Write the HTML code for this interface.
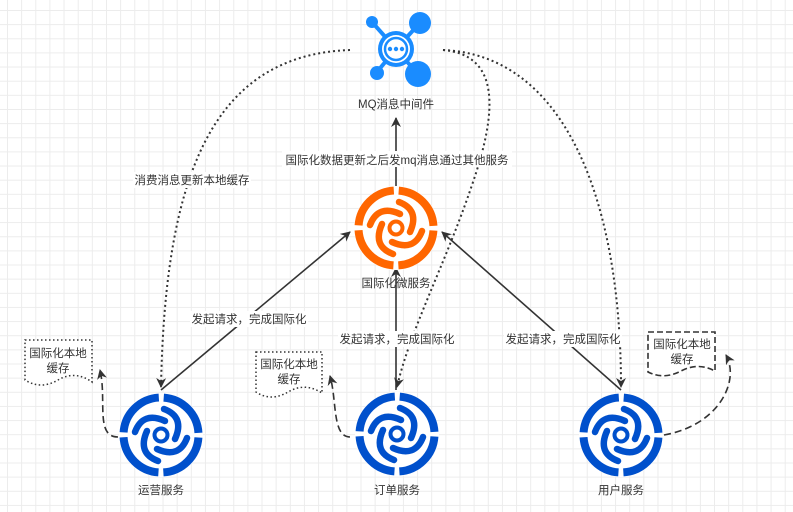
<!DOCTYPE html>
<html><head><meta charset="utf-8"><style>
html,body{margin:0;padding:0;}
body{width:793px;height:512px;overflow:hidden;background:#fff;
background-image:linear-gradient(to right,#ececec 1px,transparent 1px),linear-gradient(to bottom,#ececec 1px,transparent 1px);
background-size:14.15px 14.15px;background-position:7px 10px;}
svg{position:absolute;left:0;top:0;}
text{font-family:"Liberation Sans","Noto Sans CJK SC",sans-serif;font-size:11.5px;fill:#333;}
</style></head><body>
<svg width="793" height="512" viewBox="0 0 793 512">
<defs>
<g id="ic">
<circle r="37.5" fill="none" stroke="currentColor" stroke-width="8" stroke-dasharray="53.9 5" stroke-dashoffset="56.4"/>
<circle r="6.5" fill="none" stroke="currentColor" stroke-width="4"/>
<g fill="none" stroke="currentColor" stroke-width="6.5" stroke-linecap="round">
<path d="M4,-14 Q-18,-24 -26,-3"/>
<path d="M4,-14 Q-18,-24 -26,-3" transform="rotate(90)"/>
<path d="M4,-14 Q-18,-24 -26,-3" transform="rotate(180)"/>
<path d="M4,-14 Q-18,-24 -26,-3" transform="rotate(270)"/>
</g>
</g>
<marker id="a" markerWidth="10" markerHeight="10" refX="9" refY="5" orient="auto" markerUnits="userSpaceOnUse"><path d="M0,0 L10,5 L0,10 L3,5 Z" fill="#333"/></marker>
</defs>
<g fill="none" stroke="#333" stroke-width="2" stroke-dasharray="2 3">
<path d="M350,50 C210,55 165,180 161,387" marker-end="url(#a)"/>
<path d="M443,50 C565,55 621,200 621,387" marker-end="url(#a)"/>
<path d="M443,50 C500,55 498,110 472,185 C445,265 410,330 397,387" marker-end="url(#a)"/>
</g>
<g stroke="#333" stroke-width="1.6" fill="none">
<path d="M396,186 L396,118" marker-end="url(#a)"/>
<path d="M161,390 L350,232" marker-end="url(#a)"/>
<path d="M396,390 L396,268" marker-end="url(#a)"/>
<path d="M621,390 L442,232" marker-end="url(#a)"/>
</g>
<g fill="none" stroke="#333" stroke-width="1.6" stroke-dasharray="7 4">
<path d="M118,437 C95,437 107,400 100,370" marker-end="url(#a)"/>
<path d="M350,437 C332,437 337,400 330,376" marker-end="url(#a)"/>
<path d="M664,435 C720,425 740,380 726,355" marker-end="url(#a)"/>
</g>
<path d="M25,340 H92 V382 Q75,370 58,380 T25,380 Z" fill="#fff" stroke="#333" stroke-width="1.5" stroke-dasharray="1.5 2.5"/>
<text x="58" y="357" text-anchor="middle">国际化本地</text><text x="58" y="372" text-anchor="middle">缓存</text>
<path d="M256,352 H322 V393 Q305,382 288,392 T256,392 Z" fill="#fff" stroke="#333" stroke-width="1.5" stroke-dasharray="1.5 2.5"/>
<text x="289" y="368" text-anchor="middle">国际化本地</text><text x="289" y="383" text-anchor="middle">缓存</text>
<path d="M648,332 H715 V371 Q698,362 681,371 T648,372 Z" fill="#fff" stroke="#333" stroke-width="1.6" stroke-dasharray="6 3"/>
<text x="682" y="348" text-anchor="middle">国际化本地</text><text x="682" y="363" text-anchor="middle">缓存</text>
<g fill="#1a8cff" stroke="#1a8cff">
<line x1="396" y1="49" x2="372" y2="22" stroke-width="4"/>
<line x1="396" y1="49" x2="418" y2="25" stroke-width="4"/>
<line x1="396" y1="49" x2="377" y2="72" stroke-width="4"/>
<line x1="396" y1="49" x2="416" y2="72" stroke-width="4"/>
<circle cx="372" cy="22" r="6" stroke="none"/>
<circle cx="420" cy="23" r="11" stroke="none"/>
<circle cx="377" cy="73" r="7" stroke="none"/>
<circle cx="418" cy="74" r="13" stroke="none"/>
<circle cx="396" cy="49" r="18" stroke="none"/>
<circle cx="396" cy="49" r="14" fill="#fff" stroke="none"/>
<circle cx="396" cy="49" r="11" fill="#fff" stroke-width="2.5"/>
<circle cx="390" cy="49" r="2.2" stroke="none"/><circle cx="396" cy="49" r="2.2" stroke="none"/><circle cx="402" cy="49" r="2.2" stroke="none"/>
</g>
<text x="396" y="108" text-anchor="middle">MQ消息中间件</text>
<g transform="translate(396,228)" style="color:#ff6600"><circle r="42" fill="#fff"/><use href="#ic"/></g>
<g transform="translate(161,435)" style="color:#0050cc"><circle r="42" fill="#fff"/><use href="#ic"/></g>
<g transform="translate(397,434)" style="color:#0050cc"><circle r="42" fill="#fff"/><use href="#ic"/></g>
<g transform="translate(621,435)" style="color:#0050cc"><circle r="42" fill="#fff"/><use href="#ic"/></g>
<rect x="282" y="151" width="230" height="16" fill="#fff"/>
<text x="397" y="164" text-anchor="middle">国际化数据更新之后发mq消息通过其他服务</text>
<rect x="133" y="172" width="118" height="16" fill="#fff"/>
<text x="192" y="184" text-anchor="middle">消费消息更新本地缓存</text>
<text x="396" y="287" text-anchor="middle">国际化微服务</text>
<rect x="190" y="311" width="118" height="16" fill="#fff"/>
<text x="249" y="323" text-anchor="middle">发起请求，完成国际化</text>
<rect x="338" y="331" width="118" height="16" fill="#fff"/>
<text x="397" y="343" text-anchor="middle">发起请求，完成国际化</text>
<rect x="504" y="331" width="118" height="16" fill="#fff"/>
<text x="563" y="343" text-anchor="middle">发起请求，完成国际化</text>
<text x="161" y="494" text-anchor="middle">运营服务</text>
<text x="397" y="494" text-anchor="middle">订单服务</text>
<text x="621" y="494" text-anchor="middle">用户服务</text>
</svg>
</body></html>
